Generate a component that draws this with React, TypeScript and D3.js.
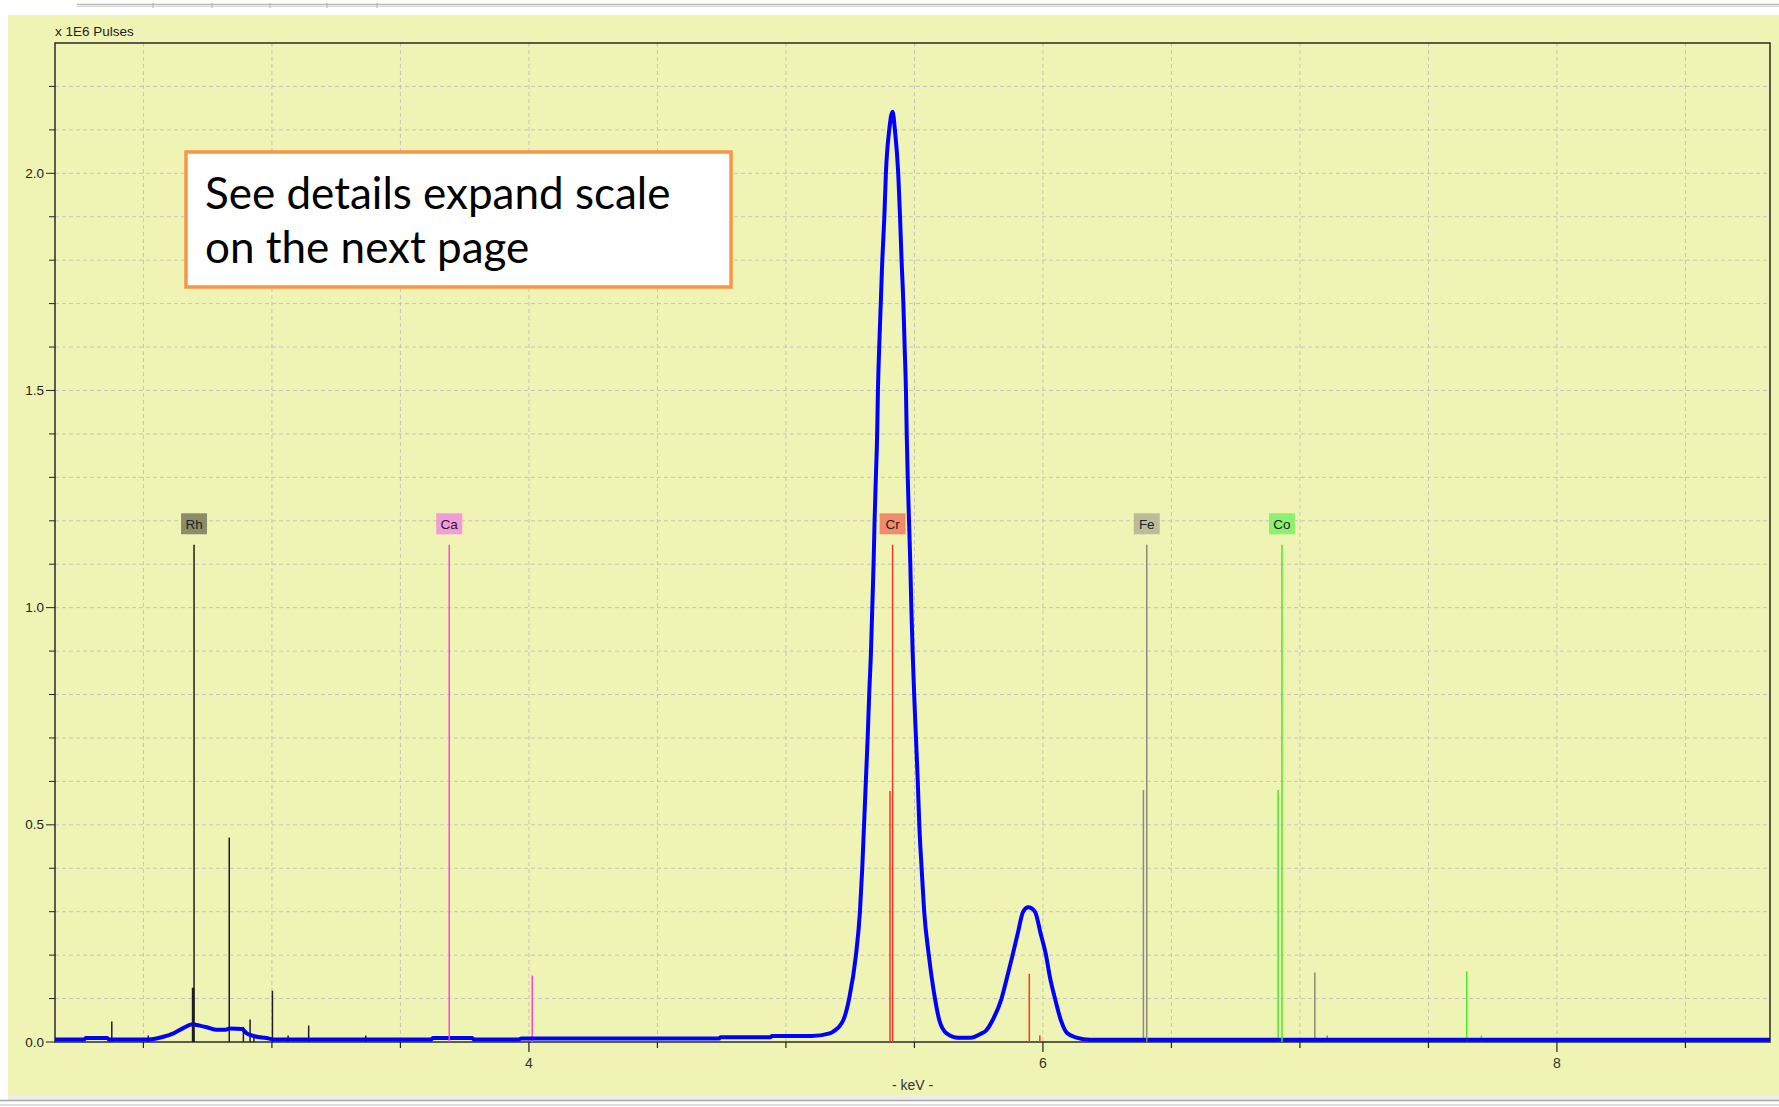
import React from "react";
import * as d3 from "d3";

// ---- Data (keV, x 1E6 pulses) ----
const spectrum: [number, number][] = [
  [2.156, 0.006], [2.27, 0.006], [2.275, 0.009], [2.36, 0.009], [2.365, 0.006], [2.52, 0.006],
  [2.55, 0.008], [2.578, 0.012], [2.617, 0.02], [2.655, 0.032], [2.692, 0.041], [2.708, 0.039],
  [2.747, 0.034], [2.785, 0.028], [2.818, 0.028], [2.837, 0.031], [2.883, 0.030], [2.902, 0.02],
  [2.928, 0.014], [2.98, 0.009], [3.006, 0.006], [3.62, 0.006], [3.627, 0.009], [3.78, 0.009],
  [3.785, 0.006], [3.96, 0.006], [3.97, 0.008], [4.74, 0.008], [4.745, 0.011], [4.94, 0.011],
  [4.945, 0.014], [5.10, 0.014], [5.17, 0.02], [5.184, 0.024], [5.223, 0.05], [5.246, 0.1],
  [5.2725, 0.2], [5.288, 0.3], [5.297, 0.4], [5.304, 0.5], [5.311, 0.6], [5.318, 0.7],
  [5.324, 0.8], [5.331, 0.9], [5.336, 1.0], [5.341, 1.1], [5.345, 1.2], [5.35, 1.3],
  [5.355, 1.4], [5.358, 1.5], [5.363, 1.6], [5.369, 1.7], [5.375, 1.8], [5.383, 1.9],
  [5.389, 2.0], [5.402, 2.1], [5.415, 2.142], [5.424, 2.1], [5.437, 2.0], [5.444, 1.9],
  [5.45, 1.8], [5.457, 1.7], [5.462, 1.6], [5.467, 1.5], [5.47, 1.4], [5.474, 1.3],
  [5.479, 1.2], [5.484, 1.1], [5.488, 1.0], [5.493, 0.9], [5.499, 0.8], [5.506, 0.7],
  [5.513, 0.6], [5.519, 0.5], [5.528, 0.4], [5.538, 0.3], [5.556, 0.2], [5.58, 0.1],
  [5.597, 0.05], [5.625, 0.02], [5.671, 0.01], [5.72, 0.01], [5.755, 0.018], [5.78, 0.027],
  [5.804, 0.05], [5.839, 0.1], [5.861, 0.15], [5.882, 0.2], [5.902, 0.25], [5.923, 0.3],
  [5.943, 0.31], [5.969, 0.3], [5.991, 0.25], [6.012, 0.2], [6.027, 0.15], [6.047, 0.1],
  [6.07, 0.05], [6.095, 0.02], [6.131, 0.01], [6.183, 0.005], [8.829, 0.005],
];

// element marker (label) energies
const elementNames = ["Rh", "Ca", "Cr", "Fe", "Co"];
const elementEnergies = [2.697, 3.690, 5.415, 6.404, 6.930];
const markerHeight = 1.145;
const labelLevel = 1.2;

// secondary emission lines per element: [keV, height]
const rhLines: [number, number][] = [
  [2.377, 0.047], [2.519, 0.015], [2.834, 0.471], [2.889, 0.035], [2.915, 0.052],
  [2.93, 0.016], [3.002, 0.118], [3.063, 0.015], [3.143, 0.038], [3.365, 0.015],
];
const rhThickLines: [number, number][] = [[2.697, 0.125]];
const caLines: [number, number][] = [[4.013, 0.153]];
const crLines: [number, number][] = [[5.405, 0.578], [5.947, 0.157], [5.988, 0.015]];
const feLines: [number, number][] = [[6.391, 0.58], [7.058, 0.16], [7.106, 0.015]];
const coLines: [number, number][] = [[6.915, 0.58], [7.649, 0.163], [7.706, 0.015]];

const xTickLabels = [4, 6, 8];
const yTickLabels = [0.0, 0.5, 1.0, 1.5, 2.0];
const xDomain: [number, number] = [2.156, 8.829];
const yDomain: [number, number] = [0, 2.3];

// ---- Styles ----
const lineColors: Record<string, string> = {
  Rh: "#1e1e1e", Ca: "#ff44dd", Cr: "#ff3322", Fe: "#8a8a80", Co: "#44ee22",
};
const boxColors: Record<string, string> = {
  Rh: "#8c8c68", Ca: "#f59ad8", Cr: "#f08c6c", Fe: "#bcbc98", Co: "#8cf070",
};
const secondary: Record<string, [number, number][]> = {
  Rh: rhLines, Ca: caLines, Cr: crLines, Fe: feLines, Co: coLines,
};

const W = 1779, H = 1107;
const M = { left: 55, right: 1770, top: 43, bottom: 1042 };
const AX_FONT = "'Liberation Sans', Arial, sans-serif";

export default function App() {
  const x = d3.scaleLinear().domain(xDomain).range([M.left, M.right]);
  const y = d3.scaleLinear().domain(yDomain).range([M.bottom, M.top]);

  const line = d3
    .line<[number, number]>()
    .x((d) => x(d[0]))
    .y((d) => y(d[1]))
    .curve(d3.curveMonotoneX);

  const vGrid = d3.range(2.5, 8.51, 0.5);
  const hGrid = d3.range(1, 23).map((i) => i / 10);

  return (
    <svg
      width={W}
      height={H}
      style={{ position: "absolute", left: 0, top: 0, display: "block" }}
    >
      <rect x={0} y={0} width={W} height={H} fill="#ffffff" />
      {/* toolbar remnants */}
      <line x1={77} x2={W} y1={4.5} y2={4.5} stroke="#b8b8b8" strokeWidth={1.5} />
      <line x1={77} x2={W} y1={6.5} y2={6.5} stroke="#d8d8d8" strokeWidth={1} />
      {[153, 212, 270, 327, 377].map((tx) => (
        <line key={tx} x1={tx} x2={tx} y1={3} y2={8} stroke="#b0b0b0" strokeWidth={1} />
      ))}
      {/* panel */}
      <rect x={8} y={15} width={W - 8} height={1080} fill="#eff4b4" />
      <rect x={8} y={1095} width={W - 8} height={5} fill="#ececec" />
      <line x1={0} x2={W} y1={1100.5} y2={1100.5} stroke="#a8a8a8" strokeWidth={1.5} />
      <line x1={0} x2={W} y1={1105} y2={1105} stroke="#b8b8b8" strokeWidth={1} />

      {/* grid */}
      <g stroke="#c4c4be" strokeWidth={1} strokeDasharray="4,3">
        {vGrid.map((v) => (
          <line key={"v" + v} x1={x(v)} x2={x(v)} y1={M.top} y2={M.bottom} />
        ))}
        {hGrid.map((v) => (
          <line key={"h" + v} x1={M.left} x2={M.right} y1={y(v)} y2={y(v)} />
        ))}
      </g>

      {/* frame */}
      <rect
        x={M.left}
        y={M.top}
        width={M.right - M.left}
        height={M.bottom - M.top}
        fill="none"
        stroke="#2a2a2a"
        strokeWidth={1.5}
      />

      {/* y ticks */}
      {d3.range(0, 23).map((i) => {
        const v = i / 10;
        const major = i % 5 === 0;
        return (
          <line
            key={"yt" + i}
            x1={M.left - (major ? 9 : 6)}
            x2={M.left}
            y1={y(v)}
            y2={y(v)}
            stroke="#222"
            strokeWidth={1}
          />
        );
      })}
      {yTickLabels.map((v) => (
        <text
          key={"yl" + v}
          x={M.left - 11}
          y={y(v) + 4.5}
          textAnchor="end"
          fontFamily={AX_FONT}
          fontSize={13.5}
          fill="#222"
        >
          {v.toFixed(1)}
        </text>
      ))}
      <text x={M.left} y={36} fontFamily={AX_FONT} fontSize={13.5} fill="#222">
        x 1E6 Pulses
      </text>

      {/* x ticks */}
      {vGrid.map((v) => {
        const major = xTickLabels.includes(v);
        return (
          <line
            key={"xt" + v}
            x1={x(v)}
            x2={x(v)}
            y1={M.bottom}
            y2={M.bottom + (major ? 10 : 6)}
            stroke="#222"
            strokeWidth={1.2}
          />
        );
      })}
      {xTickLabels.map((v) => (
        <text
          key={"xl" + v}
          x={x(v)}
          y={1068}
          textAnchor="middle"
          fontFamily={AX_FONT}
          fontSize={14}
          fill="#333"
        >
          {v}
        </text>
      ))}
      <text
        x={(M.left + M.right) / 2}
        y={1090}
        textAnchor="middle"
        fontFamily={AX_FONT}
        fontSize={14}
        fill="#333"
      >
        - keV -
      </text>

      {/* secondary emission lines */}
      {elementNames.map((n) =>
        secondary[n].map(([e, h], i) => (
          <line
            key={n + i}
            x1={x(e)}
            x2={x(e)}
            y1={y(0)}
            y2={y(h)}
            stroke={lineColors[n]}
            strokeWidth={1.5}
          />
        ))
      )}
      {rhThickLines.map(([e, h], i) => (
        <line
          key={"rht" + i}
          x1={x(e) - 1}
          x2={x(e) - 1}
          y1={y(0)}
          y2={y(h)}
          stroke={lineColors.Rh}
          strokeWidth={2.5}
        />
      ))}

      {/* spectrum */}
      <path
        d={line(spectrum) || ""}
        fill="none"
        stroke="#0000ff"
        strokeWidth={4}
        strokeLinejoin="round"
      />

      {/* element markers */}
      {elementNames.map((n, i) => {
        const e = elementEnergies[i];
        return (
          <g key={"m" + n}>
            <line
              x1={x(e)}
              x2={x(e)}
              y1={y(0)}
              y2={y(markerHeight)}
              stroke={lineColors[n]}
              strokeWidth={1.5}
            />
            <rect
              x={x(e) - 13}
              y={y(labelLevel) - 7.5}
              width={26}
              height={21}
              fill={boxColors[n]}
            />
            <text
              x={x(e)}
              y={y(labelLevel) + 8}
              textAnchor="middle"
              fontFamily={AX_FONT}
              fontSize={13.5}
              fill="#222"
            >
              {n}
            </text>
          </g>
        );
      })}

      {/* annotation */}
      <rect
        x={186}
        y={152}
        width={545}
        height={135}
        fill="#ffffff"
        stroke="#f79646"
        strokeWidth={3.5}
      />
      <text x={205} y={209} fontFamily="Lato, 'Open Sans', sans-serif" fontSize={44} fill="#000">
        See details expand scale
      </text>
      <text x={205} y={263} fontFamily="Lato, 'Open Sans', sans-serif" fontSize={44} fill="#000">
        on the next page
      </text>
    </svg>
  );
}
